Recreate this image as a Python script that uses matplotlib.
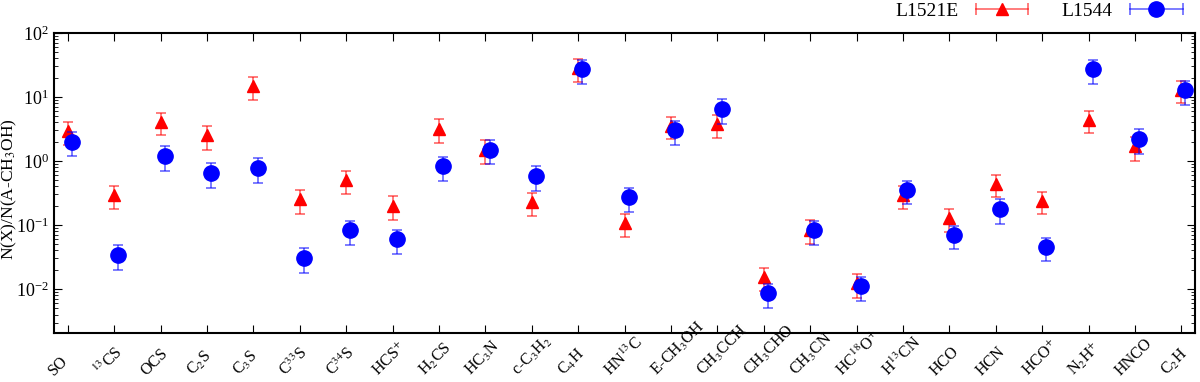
import matplotlib
matplotlib.use('Agg')
import matplotlib.pyplot as plt
import matplotlib.transforms as mtransforms
from matplotlib.lines import Line2D
from matplotlib.legend_handler import HandlerLine2D, HandlerTuple
import numpy as np

# species (x tick labels)
species = [r'SO', r'$^{13}$CS', r'OCS', r'C$_2$S', r'C$_3$S', r'C$^{33}$S', r'C$^{34}$S',
           r'HCS$^{+}$', r'H$_2$CS', r'HC$_3$N', r'c-C$_3$H$_2$', r'C$_4$H', r'HN$^{13}$C',
           r'E-CH$_3$OH', r'CH$_3$CCH', r'CH$_3$CHO', r'CH$_3$CN', r'HC$^{18}$O$^{+}$',
           r'H$^{13}$CN', r'HCO', r'HCN', r'HCO$^{+}$', r'N$_2$H$^{+}$', r'HNCO', r'C$_2$H']

# N(X)/N(A-CH3OH)
l1521e = [2.9, 0.29, 4.1, 2.5, 14.8, 0.25, 0.50, 0.20, 3.2, 1.5, 0.23, 28.0, 0.108,
          3.5, 3.8, 0.0154, 0.085, 0.0123, 0.29, 0.128, 0.44, 0.24, 4.4, 1.7, 13.0]
l1521e_err = [1.1, 0.11, 1.6, 1.0, 5.8, 0.1, 0.2, 0.08, 1.3, 0.6, 0.09, 11.0, 0.043,
              1.3, 1.5, 0.006, 0.034, 0.005, 0.11, 0.05, 0.17, 0.09, 1.7, 0.7, 5.0]
l1544 = [2.0, 0.034, 1.2, 0.65, 0.78, 0.031, 0.083, 0.06, 0.82, 1.5, 0.58, 27.0, 0.27,
         3.0, 6.5, 0.0086, 0.083, 0.011, 0.35, 0.07, 0.18, 0.045, 27.0, 2.2, 12.8]
l1544_err = [0.8, 0.014, 0.5, 0.27, 0.32, 0.013, 0.034, 0.025, 0.33, 0.6, 0.24, 11.0, 0.11,
             1.2, 2.7, 0.0035, 0.034, 0.0045, 0.14, 0.028, 0.075, 0.018, 11.0, 0.9, 5.2]

plt.rcParams['font.family'] = ['Liberation Serif', 'DejaVu Serif']
plt.rcParams['mathtext.fontset'] = 'stix'
plt.rcParams['font.size'] = 12

red_bar = (1, 0, 0, 0.6)
blue_bar = (0, 0, 1, 0.6)

fig = plt.figure(figsize=(12, 3.82), dpi=100)
ax = fig.add_axes([0.045, 0.128, 0.951, 0.786])

x = np.arange(len(species))
ax.errorbar(x, l1521e, yerr=l1521e_err, fmt='^', color='#ff0000', ms=9,
            ecolor=red_bar, elinewidth=1.2, capsize=3.5, capthick=1.2, zorder=3)
ax.errorbar(x + 0.09, l1544, yerr=l1544_err, fmt='o', color='#0000ff', ms=11,
            ecolor=blue_bar, elinewidth=1.2, capsize=3.5, capthick=1.2, zorder=4)

ax.set_yscale('log')
ax.set_ylim(0.00205, 100)
ax.set_xlim(-0.3, 24.3)
ax.set_xticks(x)
# labels start just left of the tick and run up to the right (gnuplot "rotate by 45")
ax.set_xticklabels(species, rotation=45, ha='left', va='baseline',
                   rotation_mode='anchor', fontsize=11.5)
ax.tick_params(axis='x', which='both', direction='in', top=True, length=6, pad=31)
shift = mtransforms.ScaledTranslation(-14 / 100, 0, fig.dpi_scale_trans)
for lab in ax.get_xticklabels():
    lab.set_transform(lab.get_transform() + shift)
ax.tick_params(axis='y', which='major', direction='in', right=True, length=6, labelsize=13)
ax.tick_params(axis='y', which='minor', direction='in', right=True, length=3)
for s in ax.spines.values():
    s.set_linewidth(1.5)

ax.set_ylabel(r'N(X)/N(A-CH$_3$OH)', fontsize=12.5)
ax.yaxis.set_label_coords(-0.031, 0.48)

# legend handles in gnuplot style: horizontal bar with caps, marker in the middle
red_caps = Line2D([], [], color=red_bar, lw=1.2, marker='|', ms=9, mew=1.2)
red_mark = Line2D([], [], ls='none', marker='^', color='#ff0000', ms=9)
blue_caps = Line2D([], [], color=blue_bar, lw=1.2, marker='|', ms=9, mew=1.2)
blue_mark = Line2D([], [], ls='none', marker='o', color='#0000ff', ms=11)
hmap = {red_caps: HandlerLine2D(numpoints=2), blue_caps: HandlerLine2D(numpoints=2),
        red_mark: HandlerLine2D(numpoints=1), blue_mark: HandlerLine2D(numpoints=1),
        tuple: HandlerTuple(ndivide=1, pad=0)}
ax.legend([(red_caps, red_mark), (blue_caps, blue_mark)], ['L1521E', 'L1544'],
          handler_map=hmap, loc='center right', bbox_to_anchor=(0.994, 1.073),
          ncol=2, frameon=False, fontsize=14, markerfirst=False, handlelength=3.3,
          columnspacing=1.4, borderaxespad=0, borderpad=0, handletextpad=0.6)

fig.savefig('out.png', dpi=100)
